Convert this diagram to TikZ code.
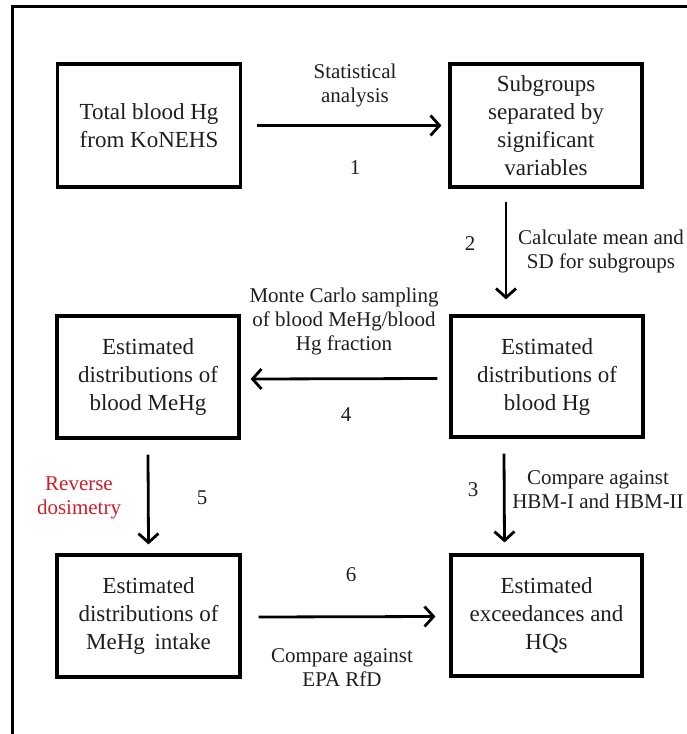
\documentclass[tikz,border=0pt]{standalone}
\usepackage{fontspec}
\newfontfamily\serifA{Liberation Serif}
\usetikzlibrary{arrows.meta}
\definecolor{txt}{RGB}{30,30,30}
\definecolor{redtxt}{RGB}{210,30,40}
\tikzset{
  box/.style={draw=black, line width=3.2pt, align=center, inner sep=0pt,
    text=txt, font=\serifA\fontsize{23}{28}\selectfont},
  lbl/.style={align=center, inner sep=0pt, text=txt, font=\serifA\fontsize{21}{24}\selectfont},
  arr/.style={line width=2.8pt, -{Straight Barb[length=9pt,width=20pt,line width=2.8pt]}},
  frame/.style={line width=3pt, line cap=rect}
}
\begin{document}
\begin{tikzpicture}[x=1pt,y=-1pt]
\useasboundingbox (0,0) rectangle (687,734);
% outer frame
\coordinate (fr1) at (690,6.5);
\coordinate (fr2) at (12,6.5);
\coordinate (fr3) at (12,740);
\draw[frame] (fr1) -- (fr2) -- (fr3);

% boxes
\node[box, minimum width=183pt, minimum height=123pt] (b1) at (149,125.5) {Total blood Hg\\from KoNEHS};
\node[box, minimum width=192pt, minimum height=123pt] (b2) at (546,125.5) {Subgroups\\separated by\\significant\\variables};
\node[box, minimum width=182pt, minimum height=122pt] (b3) at (148,377) {Estimated\\distributions of\\blood MeHg};
\node[box, minimum width=192pt, minimum height=121pt] (b4) at (547,376.5) {Estimated\\distributions of\\blood Hg};
\node[box, minimum width=183pt, minimum height=122pt] (b5) at (148.5,616) {Estimated\\distributions of\\MeHg\, intake};
\node[box, minimum width=191pt, minimum height=121pt] (b6) at (546.5,615.5) {Estimated\\exceedances and\\HQs};

% arrows
\draw[arr] ([xshift=15pt]b1.east) -- ([xshift=-7pt]b2.west);
\draw[arr] ([xshift=-40pt,yshift=-13pt]b2.south) -- ([xshift=-41pt,yshift=15pt]b4.north);
\draw[arr] ([xshift=-12pt,yshift=-2pt]b4.west) -- ([xshift=10pt,yshift=-2pt]b3.east);
\draw[arr] ([yshift=-15pt]b3.south) -- ([yshift=9pt]b5.north);
\draw[arr] ([xshift=-43pt,yshift=-15pt]b4.south) -- ([xshift=-42pt,yshift=11pt]b6.north);
\draw[arr] ([xshift=17pt,yshift=-1pt]b5.east) -- ([xshift=-14pt,yshift=-1pt]b6.west);

% labels
\node[lbl] (l1) at (355,85) {Statistical\\analysis};
\node[lbl] (n1) at (355,168) {1};
\node[lbl] (n2) at (470,244) {2};
\node[lbl] (l2) at (601,251) {Calculate mean and\\SD for subgroups};
\node[lbl] (l4) at (344,321) {Monte Carlo sampling\\of blood MeHg/blood\\Hg fraction};
\node[lbl] (n4) at (346,415) {4};
\node[lbl, text=redtxt] (l5) at (79,498) {Reverse\\dosimetry};
\node[lbl] (n5) at (202,498) {5};
\node[lbl] (n3) at (473,490) {3};
\node[lbl] (l3) at (598,490) {Compare against\\HBM-I and HBM-II};
\node[lbl] (n6) at (351,575) {6};
\node[lbl] (l6) at (342,668) {Compare against\\EPA RfD};
\end{tikzpicture}
\end{document}
